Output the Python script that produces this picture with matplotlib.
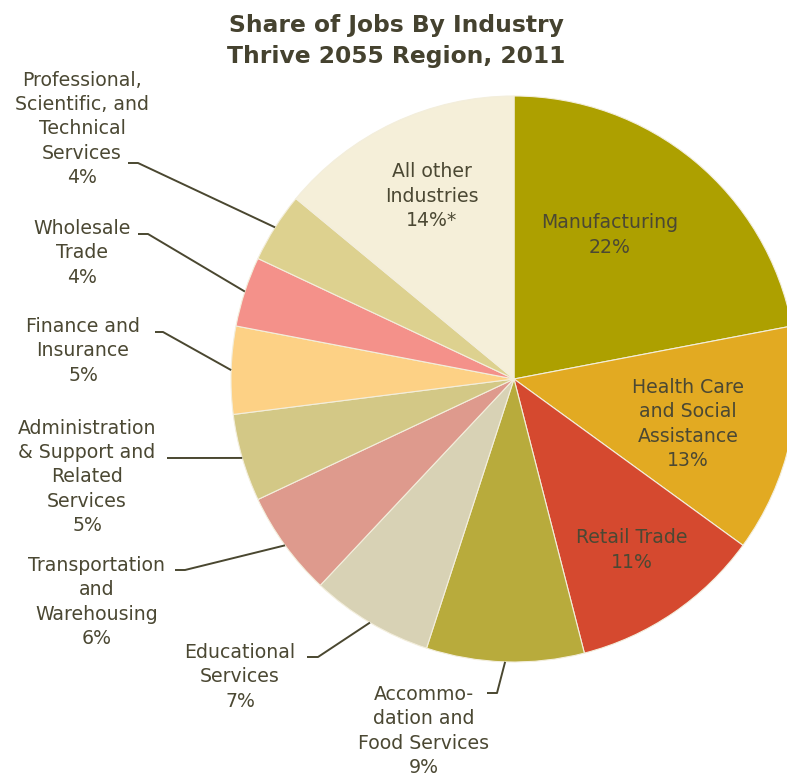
import matplotlib
matplotlib.use("Agg")
import matplotlib.pyplot as plt
import numpy as np

# share of jobs by industry, clockwise from 12 o'clock
industries = [
    "Manufacturing", "Health Care\nand Social\nAssistance", "Retail Trade",
    "Accommo-\ndation and\nFood Services", "Educational\nServices",
    "Transportation\nand\nWarehousing", "Administration\n& Support and\nRelated\nServices",
    "Finance and\nInsurance", "Wholesale\nTrade",
    "Professional,\nScientific, and\nTechnical\nServices", "All other\nIndustries",
]
shares = [22, 13, 11, 9, 7, 6, 5, 5, 4, 4, 14]
suffix = ["", "", "", "", "", "", "", "", "", "", "*"]
colors = ["#ADA000", "#E2AA22", "#D5492F", "#B8AB3C", "#D8D2B5", "#DE9A8D",
          "#D3C886", "#FDD185", "#F4918A", "#DDD18F", "#F5EFD9"]

TXT = "#4B4833"
W, H = 787, 777
plt.rcParams['font.family'] = ['DejaVu Sans']

fig = plt.figure(figsize=(W / 100, H / 100), dpi=100)
ax = fig.add_axes([0, 0, 1, 1])

cx, cy, r = 514, H - 379, 283
wedges, _ = ax.pie(shares, colors=colors, startangle=90, counterclock=False,
                   center=(cx, cy), radius=r, frame=True,
                   wedgeprops=dict(edgecolor="#F3EEDC", linewidth=0.8))
ax.set_xlim(0, W)
ax.set_ylim(0, H)
ax.axis('off')

def pt(px, py):
    return px, H - py

fs = 13.6
ls = 1.36

# labels drawn inside the pie: (index, x, y center in pixels)
inside = [(0, 610, 235), (1, 688, 424), (2, 632, 550), (10, 432, 196)]
for i, x, y in inside:
    ax.text(*pt(x, y), f"{industries[i]}\n{shares[i]}%{suffix[i]}", ha="center", va="center",
            fontsize=fs, color=TXT, linespacing=ls)

# outside labels: (index, text center x, y, leader start x, y, elbow x)
outside = [
    (9, 82, 129, 128, 163, 138),
    (8, 82, 253, 138, 234, 148),
    (7, 83, 351, 155, 332, 163),
    (6, 87, 477, 167, 458, 175),
    (5, 97, 602, 175, 570, 185),
    (4, 240, 677, 307, 657, 318),
    (3, 424, 731, 487, 693, 497),
]
cum = np.cumsum([0] + shares)
for i, x, y, lx, ly, ex in outside:
    ax.text(*pt(x, y), f"{industries[i]}\n{shares[i]}%", ha="center", va="center",
            fontsize=fs, color=TXT, linespacing=ls)
    mid = np.deg2rad(90 - 360 * (cum[i] + shares[i] / 2) / 100)
    px, py = cx + r * np.cos(mid), cy + r * np.sin(mid)
    ax.plot([lx, ex, px], [H - ly, H - ly, py], color="#4A4730", lw=1.4,
            solid_capstyle="butt")

ax.text(*pt(396, 41), "Share of Jobs By Industry\nThrive 2055 Region, 2011",
        ha="center", va="center", fontsize=16.8, fontweight="bold", color="#45422F",
        linespacing=1.45)

fig.savefig("out.png", dpi=100)
